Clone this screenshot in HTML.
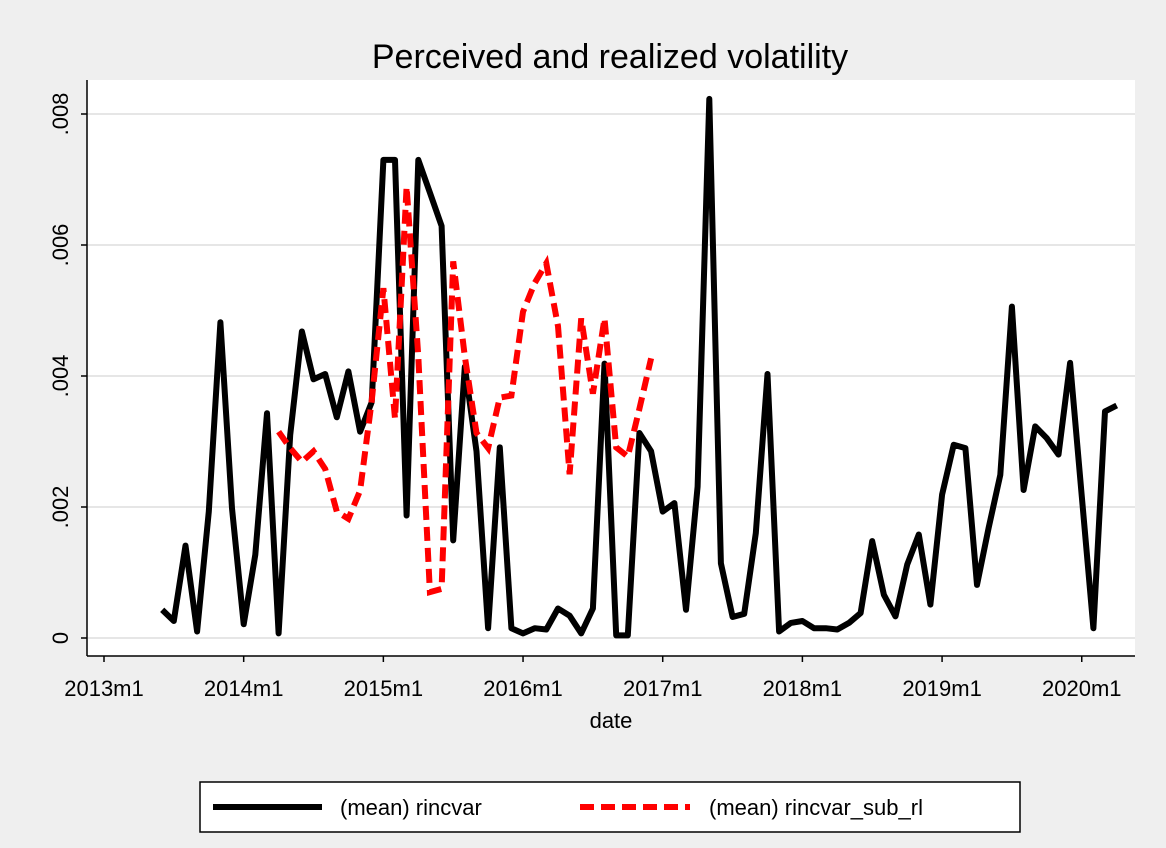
<!DOCTYPE html>
<html><head><meta charset="utf-8"><style>
body{margin:0;background:#efefef;}
svg{display:block;font-family:"Liberation Sans",Arial,sans-serif;}
</style></head><body>
<svg id="chart" width="1166" height="848">
<rect x="0" y="0" width="1166" height="848" fill="#efefef"/>
<rect x="87" y="80" width="1048" height="576" fill="#fff"/>
<text x="610" y="68" font-size="34" text-anchor="middle">Perceived and realized volatility</text>
<g id="grid"></g>
<g id="axes"></g>
<g id="series"></g>
<text x="611" y="728" font-size="22" text-anchor="middle">date</text>
<g>
<rect x="200" y="782" width="820" height="50" fill="#fff" stroke="#000" stroke-width="1.5"/>
<line x1="213" y1="807" x2="322" y2="807" stroke="#000" stroke-width="6"/>
<text x="340" y="815" font-size="22">(mean) rincvar</text>
<line x1="580" y1="807" x2="690" y2="807" stroke="#f00" stroke-width="6" stroke-dasharray="14,7"/>
<text x="709" y="815" font-size="22">(mean) rincvar_sub_rl</text>
</g>
</svg>
<script>
// black: 2013m6 .. 2020m4
const blackStart = 5; // months since 2013m1
const blackValues = [0.00043,0.00026,0.00141,0.0001,0.00193,0.00482,0.00198,
0.00021,0.00127,0.00343,0.00007,0.0031,0.00468,0.00395,0.00403,0.00337,0.00407,0.00315,0.0036,
0.0073,0.0073,0.00187,0.0073,0.0068,0.00629,0.00149,0.00414,0.00285,0.00015,0.00291,0.00015,
0.00007,0.00015,0.00013,0.00045,0.00034,0.00007,0.00045,0.00419,0.00004,0.00004,0.00313,0.00285,
0.00193,0.00206,0.00043,0.00231,0.00823,0.00114,0.00032,0.00037,0.0016,0.00403,0.0001,0.00023,
0.00026,0.00015,0.00015,0.00013,0.00023,0.00038,0.00148,0.00066,0.00033,0.00112,0.00158,0.00051,
0.00219,0.00295,0.0029,0.00081,0.00168,0.00249,0.00506,0.00226,0.00323,0.00305,0.0028,0.0042,
0.00216,0.00015,0.00346,0.00355];
// red: 2014m4 .. 2016m12
const redStart = 15;
const redValues = [0.00315,0.0029,0.00269,0.00285,0.00258,0.00193,0.00182,0.00225,0.00362,
0.00534,0.00335,0.00689,0.0043,0.0007,0.00075,0.00575,0.0043,0.00313,0.0029,0.00367,0.0037,
0.00498,0.00542,0.00572,0.00476,0.0025,0.00488,0.00373,0.00488,0.00291,0.00277,0.0035,0.00427];
const yTicks = [0,0.002,0.004,0.006,0.008];
const yTickLabels = ["0",".002",".004",".006",".008"];
const xTickMonths = [0,12,24,36,48,60,72,84];
const xTickLabels = ["2013m1","2014m1","2015m1","2016m1","2017m1","2018m1","2019m1","2020m1"];

const NS="http://www.w3.org/2000/svg";
function X(m){return 104 + m*11.64;}
function Y(v){return 638 - v/0.002*131;}
function mk(tag,attrs,parent){const e=document.createElementNS(NS,tag);for(const k in attrs)e.setAttribute(k,attrs[k]);parent.appendChild(e);return e;}
const grid=document.getElementById('grid'), axes=document.getElementById('axes'), series=document.getElementById('series');
yTicks.forEach((v,i)=>{
  const g=mk('line',{x1:87,x2:1135,y1:Y(v),y2:Y(v),stroke:'#e6e6e6','stroke-width':2},grid);
  
  
  const t=mk('line',{x1:81,x2:87,y1:Y(v),y2:Y(v),stroke:'#000','stroke-width':1.5},axes);
  
  
  const l=mk('text',{x:0,y:0,'font-size':22,'text-anchor':'middle',transform:`translate(68,${Y(v)}) rotate(-90)`},axes);
  l.textContent=yTickLabels[i];
  
  
});
const ya=mk('line',{x1:87,x2:87,y1:80,y2:656,stroke:'#000','stroke-width':1.5},axes);


const xa=mk('line',{x1:87,x2:1135,y1:656,y2:656,stroke:'#000','stroke-width':1.5},axes);


xTickMonths.forEach((m,i)=>{
  const t=mk('line',{x1:X(m),x2:X(m),y1:656,y2:662,stroke:'#000','stroke-width':1.5},axes);
  
  
  const l=mk('text',{x:X(m),y:696,'font-size':22,'text-anchor':'middle'},axes);
  l.textContent=xTickLabels[i];
  
  
});
function pts(start,vals){return vals.map((v,i)=>X(start+i).toFixed(1)+','+Y(v).toFixed(1)).join(' ');}
const bl=mk('polyline',{points:pts(blackStart,blackValues),fill:'none',stroke:'#000','stroke-width':6,'stroke-linejoin':'round'},series);


const rl=mk('polyline',{points:pts(redStart,redValues),fill:'none',stroke:'#f00','stroke-width':6,'stroke-dasharray':'14,7'},series);


</script>
</body></html>
